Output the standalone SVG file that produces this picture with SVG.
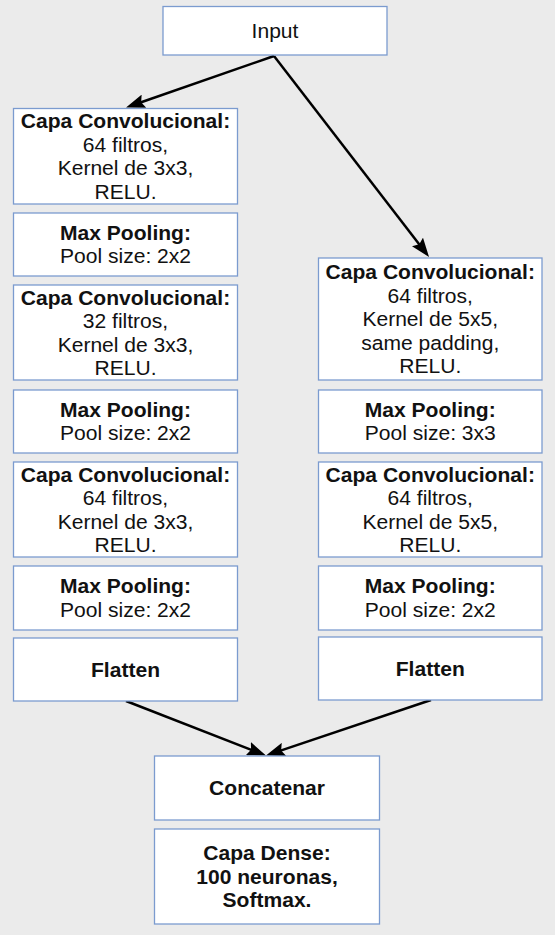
<svg xmlns="http://www.w3.org/2000/svg" width="555" height="935" viewBox="0 0 555 935">
<style>
.box{fill:#ffffff;stroke:#7b9bcf;stroke-width:1.3}
.t{font-family:"Liberation Sans",Arial,sans-serif;font-size:19.5px;fill:#111111;text-anchor:middle}
.b{font-weight:bold}
.edge{fill:none;stroke:#000000;stroke-width:2.5;marker-end:url(#ah)}
</style>
<defs>
<marker id="ah" markerUnits="userSpaceOnUse" markerWidth="20" markerHeight="14" refX="6" refY="7" orient="auto" viewBox="0 0 20 14">
<path d="M0,0 L19,7 L0,14 L3,7 z" fill="#000000"/>
</marker>
</defs>
<rect width="555" height="935" fill="#ebebeb"/>
<g id="connectors">
<line class="edge" x1="274" y1="56" x2="138.3" y2="103.2"/>
<line class="edge" x1="274" y1="56" x2="421.1" y2="246.7"/>
<line class="edge" x1="126" y1="701" x2="253.9" y2="750.8"/>
<line class="edge" x1="431" y1="700" x2="278.3" y2="751.4"/>
</g>
<g id="input">
<rect class="box" x="163" y="6.5" width="224" height="48.5"/>
<text class="t" transform="translate(275 0) scale(1.08 1)"><tspan x="0" y="38.3">Input</tspan></text>
</g>
<g id="l-conv1">
<rect class="box" x="13.5" y="108.5" width="224" height="95.5"/>
<text class="t" transform="translate(125.5 0) scale(1.08 1)"><tspan x="0" y="128.3" class="b">Capa Convolucional:</tspan><tspan x="0" y="151.8">64 filtros,</tspan><tspan x="0" y="175.3">Kernel de 3x3,</tspan><tspan x="0" y="198.8">RELU.</tspan></text>
</g>
<g id="l-pool1">
<rect class="box" x="13.5" y="213" width="224" height="63"/>
<text class="t" transform="translate(125.5 0) scale(1.08 1)"><tspan x="0" y="240" class="b">Max Pooling:</tspan><tspan x="0" y="263.5">Pool size: 2x2</tspan></text>
</g>
<g id="l-conv2">
<rect class="box" x="13.5" y="285" width="224" height="95"/>
<text class="t" transform="translate(125.5 0) scale(1.08 1)"><tspan x="0" y="304.8" class="b">Capa Convolucional:</tspan><tspan x="0" y="328.3">32 filtros,</tspan><tspan x="0" y="351.8">Kernel de 3x3,</tspan><tspan x="0" y="375.3">RELU.</tspan></text>
</g>
<g id="l-pool2">
<rect class="box" x="13.5" y="390" width="224" height="63"/>
<text class="t" transform="translate(125.5 0) scale(1.08 1)"><tspan x="0" y="417" class="b">Max Pooling:</tspan><tspan x="0" y="440.5">Pool size: 2x2</tspan></text>
</g>
<g id="l-conv3">
<rect class="box" x="13.5" y="462" width="224" height="95"/>
<text class="t" transform="translate(125.5 0) scale(1.08 1)"><tspan x="0" y="481.8" class="b">Capa Convolucional:</tspan><tspan x="0" y="505.3">64 filtros,</tspan><tspan x="0" y="528.8">Kernel de 3x3,</tspan><tspan x="0" y="552.3">RELU.</tspan></text>
</g>
<g id="l-pool3">
<rect class="box" x="13.5" y="566" width="224" height="64"/>
<text class="t" transform="translate(125.5 0) scale(1.08 1)"><tspan x="0" y="593.5" class="b">Max Pooling:</tspan><tspan x="0" y="617">Pool size: 2x2</tspan></text>
</g>
<g id="l-flatten">
<rect class="box" x="13.5" y="638" width="224" height="63"/>
<text class="t b" transform="translate(125.5 0) scale(1.08 1)"><tspan x="0" y="676.8">Flatten</tspan></text>
</g>
<g id="r-conv1">
<rect class="box" x="318.5" y="258" width="223.5" height="122"/>
<text class="t" transform="translate(430.25 0) scale(1.08 1)"><tspan x="0" y="279.3" class="b">Capa Convolucional:</tspan><tspan x="0" y="302.8">64 filtros,</tspan><tspan x="0" y="326.3">Kernel de 5x5,</tspan><tspan x="0" y="349.8">same padding,</tspan><tspan x="0" y="373.3">RELU.</tspan></text>
</g>
<g id="r-pool1">
<rect class="box" x="318.5" y="390" width="223.5" height="63"/>
<text class="t" transform="translate(430.25 0) scale(1.08 1)"><tspan x="0" y="417" class="b">Max Pooling:</tspan><tspan x="0" y="440.5">Pool size: 3x3</tspan></text>
</g>
<g id="r-conv2">
<rect class="box" x="318.5" y="462" width="223.5" height="95"/>
<text class="t" transform="translate(430.25 0) scale(1.08 1)"><tspan x="0" y="481.8" class="b">Capa Convolucional:</tspan><tspan x="0" y="505.3">64 filtros,</tspan><tspan x="0" y="528.8">Kernel de 5x5,</tspan><tspan x="0" y="552.3">RELU.</tspan></text>
</g>
<g id="r-pool2">
<rect class="box" x="318.5" y="566" width="223.5" height="64"/>
<text class="t" transform="translate(430.25 0) scale(1.08 1)"><tspan x="0" y="593.5" class="b">Max Pooling:</tspan><tspan x="0" y="617">Pool size: 2x2</tspan></text>
</g>
<g id="r-flatten">
<rect class="box" x="318.5" y="637" width="223.5" height="63"/>
<text class="t b" transform="translate(430.25 0) scale(1.08 1)"><tspan x="0" y="675.8">Flatten</tspan></text>
</g>
<g id="concatenar">
<rect class="box" x="154.5" y="756" width="225" height="64"/>
<text class="t b" transform="translate(267 0) scale(1.08 1)"><tspan x="0" y="795.3">Concatenar</tspan></text>
</g>
<g id="dense">
<rect class="box" x="154.5" y="829" width="225" height="95"/>
<text class="t b" transform="translate(267 0) scale(1.08 1)"><tspan x="0" y="860.3">Capa Dense:</tspan><tspan x="0" y="883.8">100 neuronas,</tspan><tspan x="0" y="907.3">Softmax.</tspan></text>
</g>
</svg>
